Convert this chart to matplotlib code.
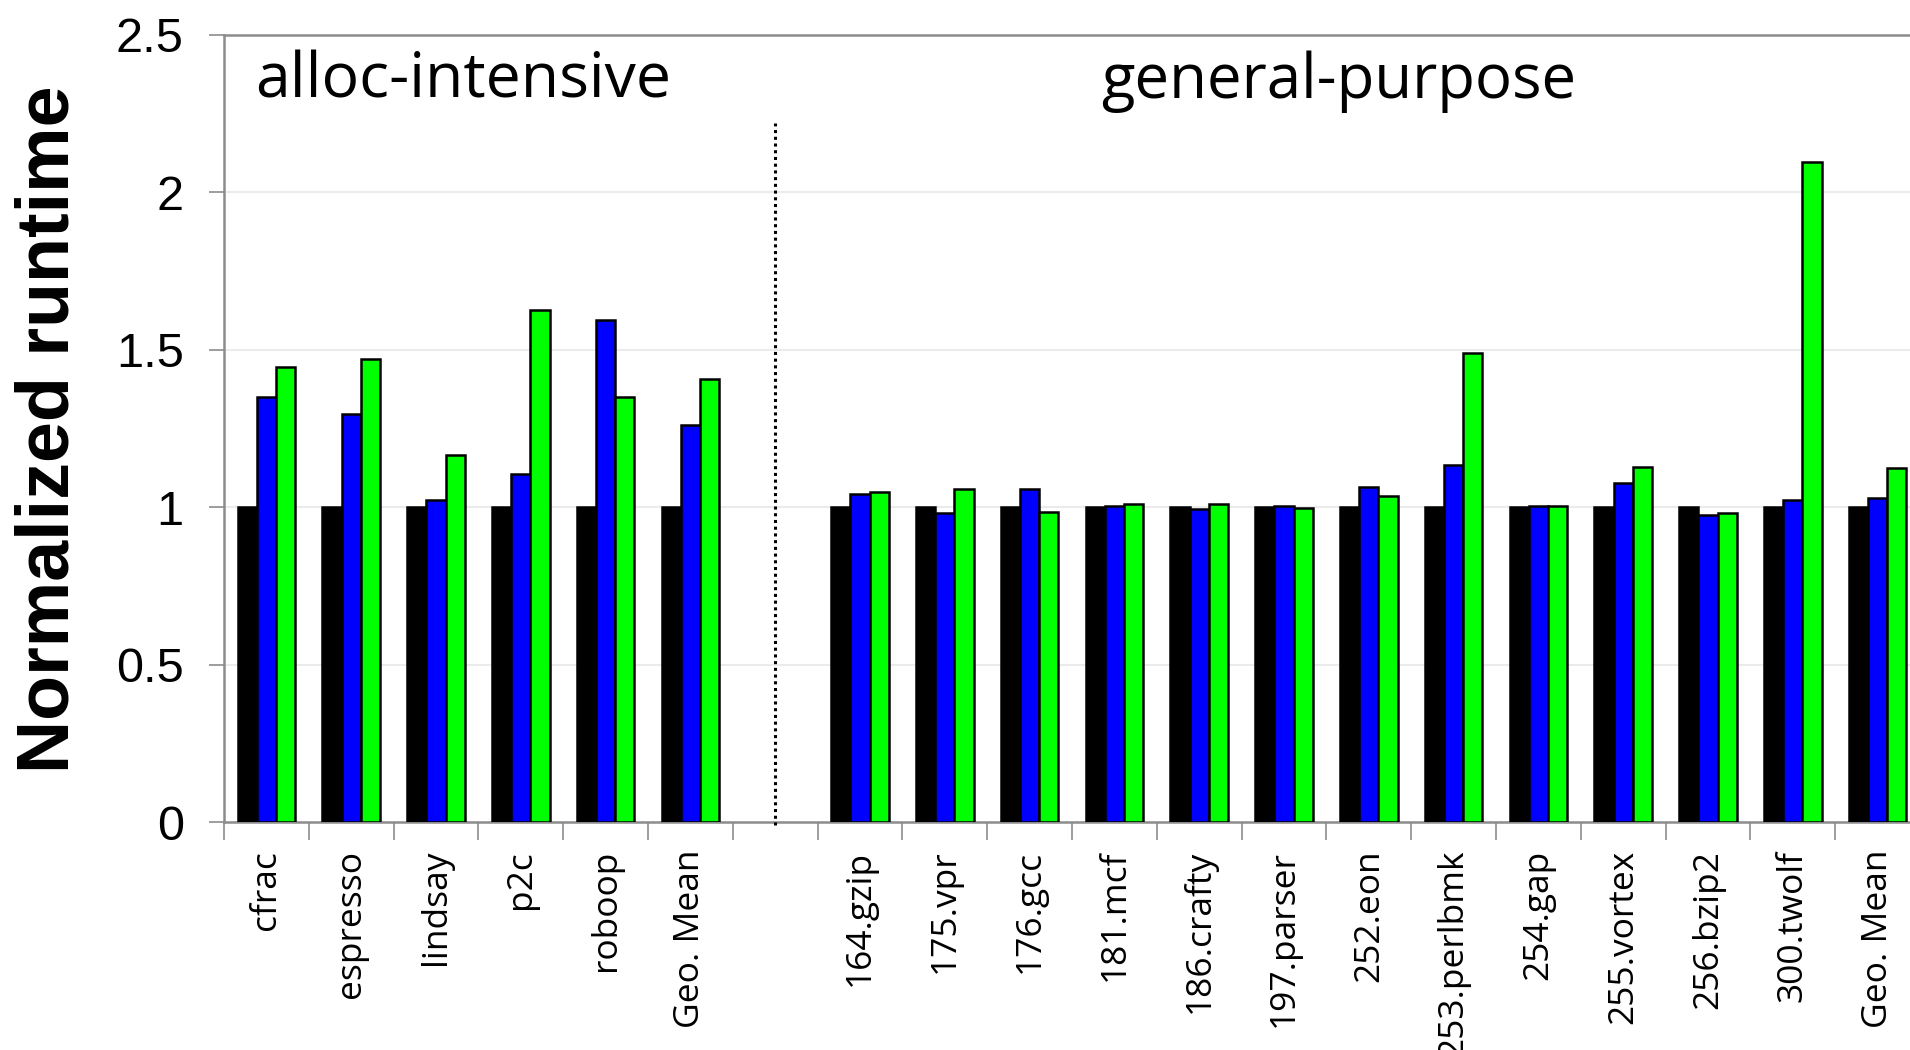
import matplotlib
matplotlib.use("Agg")
import matplotlib.pyplot as plt
import numpy as np

# Benchmarks, grouped by workload type
alloc_labels = ["cfrac", "espresso", "lindsay", "p2c", "roboop", "Geo. Mean"]
general_labels = ["164.gzip", "175.vpr", "176.gcc", "181.mcf", "186.crafty",
                  "197.parser", "252.eon", "253.perlbmk", "254.gap",
                  "255.vortex", "256.bzip2", "300.twolf", "Geo. Mean"]

# Normalized runtimes (black = baseline, blue and green = the two alternatives)
alloc_black = [1.0, 1.0, 1.0, 1.0, 1.0, 1.0]
alloc_blue = [1.351, 1.296, 1.023, 1.107, 1.596, 1.260]
alloc_green = [1.446, 1.471, 1.166, 1.628, 1.351, 1.406]

general_black = [1.0, 1.0, 1.0, 1.0, 1.0, 1.0, 1.0, 1.0, 1.0, 1.0, 1.0, 1.0, 1.0]
general_blue = [1.043, 0.980, 1.057, 1.004, 0.995, 1.004, 1.063, 1.133,
                1.004, 1.078, 0.976, 1.024, 1.029]
general_green = [1.049, 1.057, 0.984, 1.010, 1.010, 0.999, 1.035, 1.490,
                 1.004, 1.129, 0.982, 2.095, 1.124]

y_ticks = [0, 0.5, 1, 1.5, 2, 2.5]
y_tick_labels = ["0", "0.5", "1", "1.5", "2", "2.5"]

group_titles = ["alloc-intensive", "general-purpose"]
y_label = "Normalized runtime"

# One empty slot separates the two groups
n_alloc = len(alloc_labels)
x_alloc = np.arange(n_alloc)
x_general = np.arange(len(general_labels)) + n_alloc + 1
x_all = np.concatenate([x_alloc, x_general])
labels_all = alloc_labels + general_labels
black_all = alloc_black + general_black
blue_all = alloc_blue + general_blue
green_all = alloc_green + general_green
n_slots = n_alloc + 1 + len(general_labels)

W, H = 1910, 1050
fig = plt.figure(figsize=(W / 100, H / 100), dpi=100)
left_px, top_px, bottom_px, slot_px = 224, 35, 822, 84.8
ax = fig.add_axes([left_px / W, 1 - bottom_px / H,
                   n_slots * slot_px / W, (bottom_px - top_px) / H])

bw = 0.227
edge = dict(edgecolor="black", linewidth=1.8, zorder=3)
ax.bar(x_all - bw, black_all, bw, color="black", **edge)
ax.bar(x_all, blue_all, bw, color="#0000ff", **edge)
ax.bar(x_all + bw, green_all, bw, color="#00ff00", **edge)

ax.set_xlim(-0.5, n_slots - 0.5)
ax.set_ylim(0, 2.5)

# light horizontal gridlines
for yv in y_ticks[1:-1]:
    ax.axhline(yv, color="#ebebeb", linewidth=1.5, zorder=0)

spine_color = "#8c8c8c"
for side in ["left", "top", "bottom"]:
    ax.spines[side].set_color(spine_color)
    ax.spines[side].set_linewidth(1.8)
ax.spines["right"].set_visible(False)

ax.set_yticks(y_ticks)
ax.set_yticklabels(y_tick_labels, fontsize=35, family="Liberation Sans")
ax.tick_params(axis="y", direction="out", length=11, width=1.2,
               color=spine_color, pad=18)

ax.set_xticks(x_all)
ax.set_xticklabels(labels_all, rotation=90, fontsize=25.5, family="Open Sans")
ax.tick_params(axis="x", which="major", length=0, pad=20)
ax.set_xticks(np.arange(n_slots + 1) - 0.5, minor=True)
ax.tick_params(axis="x", which="minor", direction="out", length=13,
               width=1.2, color=spine_color)

# dotted divider between the groups
ax.plot([n_alloc, n_alloc], [-0.01, 2.22], color="black", linewidth=2.2,
        linestyle=(0, (1.0, 1.2)), clip_on=False, zorder=4)

ax.text(2.32, 2.30, group_titles[0], ha="center", va="baseline",
        fontsize=45, family="Open Sans")
ax.text(12.65, 2.30, group_titles[1], ha="center", va="baseline",
        fontsize=44.5, family="Open Sans")

fig.text(49 / W, 1 - 429 / H, y_label, rotation=90, ha="center", va="center",
         fontsize=53, fontweight="bold", family="Liberation Sans")

fig.savefig("out.png", dpi=100)
